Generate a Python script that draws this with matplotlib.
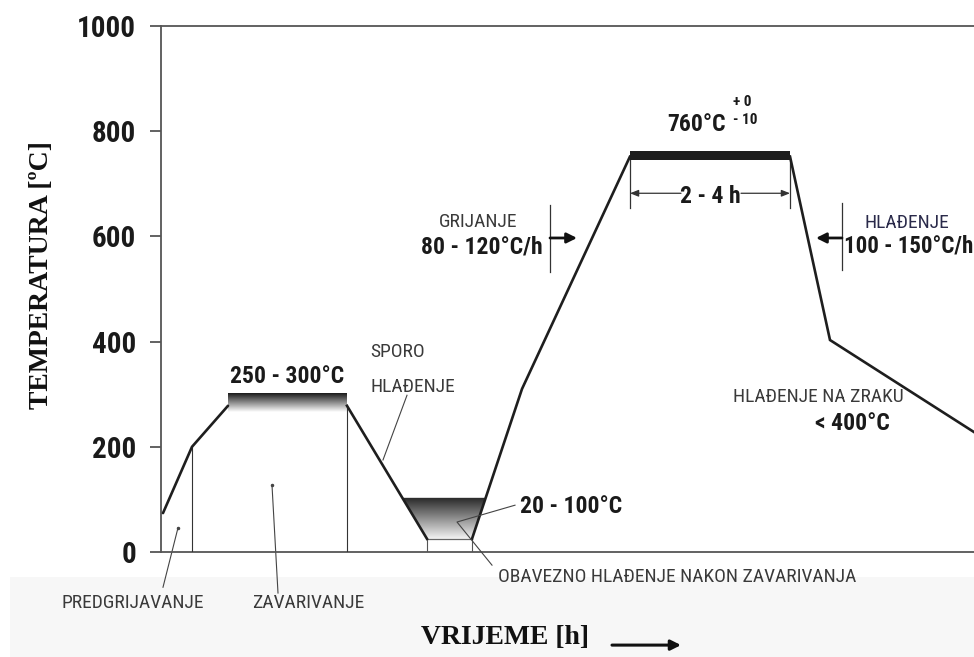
import numpy as np
import matplotlib
matplotlib.use("Agg")
import matplotlib.pyplot as plt
from matplotlib.patches import Polygon, Rectangle
from matplotlib import font_manager as fm

# ---------------- data ----------------
y_ticks = [0, 200, 400, 600, 800, 1000]
y_ticklabels = ["0", "200", "400", "600", "800", "1000"]

# preheating ramp (time in arbitrary units, temperature in degC)
preheat_time = [2, 31, 67]
preheat_temp = [74, 200, 278]

# welding hold band 250 - 300 degC
weld_band_time = [67, 186]
weld_band_temp = [266, 302]

# slow cooling after welding
cool_time = [186, 266]
cool_temp = [278, 25]

# mandatory cooling window 20 - 100 degC
trough_temp = [25, 103]
trough_time = [266, 311]

# heating to PWHT and cooling
pwht_time = [311, 361, 469, 629, 669, 813]
pwht_temp = [25, 310, 752, 752, 403, 228]

# PWHT soak band
soak_time = [469, 629]
soak_temp = [746, 763]

welding_marker_time = [31, 186]
welding_marker_temp = [200, 278]

names = {f.name for f in fm.fontManager.ttflist}


def pick(cands):
    for c in cands:
        if c in names:
            return c
    return "DejaVu Sans"


NARROW = pick(["Roboto Condensed", "Archivo Narrow", "PT Sans Narrow", "Liberation Sans Narrow"])
LIGHTF = pick(["Roboto Condensed", "PT Sans Narrow", "Archivo Narrow"])
SERIF = "Liberation Serif"

fig = plt.figure(figsize=(9.74, 6.57), dpi=100)
fig.patch.set_facecolor("white")
# light grey bottom strip
fig.add_artist(Rectangle((10 / 974, 0), 1, 80 / 657, transform=fig.transFigure,
                         facecolor="#f7f7f7", edgecolor="none", zorder=-5))

ax = fig.add_axes([161 / 974, (657 - 552) / 657, (974 - 161) / 974, (552 - 26) / 657])
ax.set_facecolor("none")
ax.set_xlim(0, 813)
ax.set_ylim(0, 1000)
ax.spines["right"].set_visible(False)
for s in ["left", "top", "bottom"]:
    ax.spines[s].set_color("#555555")
    ax.spines[s].set_linewidth(1.3)
ax.set_xticks([])
ax.set_yticks(y_ticks)
ax.set_yticklabels(y_ticklabels, fontfamily=NARROW, fontsize=21, fontweight="bold", color="#1a1a1a")
ax.tick_params(axis="y", length=8, width=1.3, color="#555555", pad=10)

LINE = "#1e1e1e"
LW = 1.9

# profile lines
ax.plot(preheat_time, preheat_temp, color=LINE, lw=LW, solid_capstyle="round", zorder=5)
ax.plot(cool_time, cool_temp, color=LINE, lw=LW, zorder=5)
ax.plot(pwht_time, pwht_temp, color=LINE, lw=LW, solid_joinstyle="miter", zorder=5)

# vertical markers at welding start / end
for t, T in zip(welding_marker_time, welding_marker_temp):
    ax.plot([t, t], [0, T], color="#333333", lw=0.8, zorder=4)


def gradient_fill(ax, patch, y0, y1, c_top, c_bot, x0, x1):
    ax.add_patch(patch)
    grad = np.linspace(0, 1, 256).reshape(-1, 1)
    top = np.array(matplotlib.colors.to_rgb(c_top))
    bot = np.array(matplotlib.colors.to_rgb(c_bot))
    img = top[None, None, :] * (1 - grad[:, :, None]) + bot[None, None, :] * grad[:, :, None]
    im = ax.imshow(img, extent=[x0, x1, y0, y1], origin="upper", aspect="auto", zorder=3)
    im.set_clip_path(patch)


# welding band gradient
wb = Rectangle((weld_band_time[0], weld_band_temp[0]), weld_band_time[1] - weld_band_time[0],
               weld_band_temp[1] - weld_band_temp[0], facecolor="none", edgecolor="none")
gradient_fill(ax, wb, weld_band_temp[0], weld_band_temp[1], "#1a1a1a", "#ffffff",
              weld_band_time[0], weld_band_time[1])

# trough (20 - 100 degC) trapezoid
t_top_left = np.interp(trough_temp[1], cool_temp[::-1], cool_time[::-1])
t_top_right = np.interp(trough_temp[1], pwht_temp[:3], pwht_time[:3])
trap = Polygon([[t_top_left, trough_temp[1]], [t_top_right, trough_temp[1]],
                [trough_time[1], trough_temp[0]], [trough_time[0], trough_temp[0]]],
               closed=True, facecolor="none", edgecolor="none")
gradient_fill(ax, trap, trough_temp[0], trough_temp[1], "#262626", "#f4f4f4",
              t_top_left, t_top_right)
ax.plot([trough_time[0], trough_time[1]], [trough_temp[0], trough_temp[0]], color="#666666", lw=0.9, zorder=4)
for t in trough_time:
    ax.plot([t, t], [0, trough_temp[0]], color="#555555", lw=0.8, zorder=4)

# soak band at 760
ax.add_patch(Rectangle((soak_time[0], soak_temp[0]), soak_time[1] - soak_time[0],
                       soak_temp[1] - soak_temp[0], facecolor="#1c1c1c", edgecolor="none", zorder=6))

# ----------- annotations -----------
BOLD = dict(fontfamily=NARROW, fontweight="bold", color="#1a1a1a")
LIGHT = dict(fontfamily=LIGHTF, fontweight="normal", color="#3a3a3a")
LS = 14

ax.text(126, 333, "250 - 300°C", fontsize=17, ha="center", va="center", **BOLD)
ax.text(209, 380, "SPORO", fontsize=LS, ha="left", va="center", **LIGHT)
ax.text(209, 314, "HLAĐENJE", fontsize=LS, ha="left", va="center", **LIGHT)
ax.plot([222, 246], [175, 298], color="#444444", lw=0.8)

ax.text(-28, -97, "PREDGRIJAVANJE", fontsize=LS, ha="center", va="center", clip_on=False, **LIGHT)
ax.plot([2, 17], [-67, 46], color="#444444", lw=0.8, clip_on=False)
ax.plot([17], [46], marker="o", ms=1.5, color="#444444")

ax.text(147, -97, "ZAVARIVANJE", fontsize=LS, ha="center", va="center", clip_on=False, **LIGHT)
ax.plot([117, 111], [-78, 127], color="#444444", lw=0.8, clip_on=False)
ax.plot([111], [127], marker="o", ms=1.5, color="#444444")

ax.text(359, 86, "20 - 100°C", fontsize=17, ha="left", va="center", **BOLD)
ax.plot([354, 296, 331], [89, 57, -25], color="#444444", lw=0.8, clip_on=False, zorder=7)
ax.text(337, -48, "OBAVEZNO HLAĐENJE NAKON ZAVARIVANJA", fontsize=LS, ha="left", va="center",
        clip_on=False, **LIGHT)

# heating rate
ax.text(317, 627, "GRIJANJE", fontsize=LS, ha="center", va="center", **LIGHT)
ax.text(382, 580, "80 - 120°C/h", fontsize=17, ha="right", va="center", **BOLD)
ax.plot([389, 389], [532, 660], color="#333333", lw=0.9)
ax.annotate("", xy=(416, 597), xytext=(389, 597),
            arrowprops=dict(arrowstyle="-|>,head_length=0.6,head_width=0.3", color="#111111", lw=2.0,
                            shrinkA=0, shrinkB=0))

# soak
ax.text(536, 812, "760°C", fontsize=17, ha="center", va="center", **BOLD)
ax.text(572, 856, "+ 0", fontsize=11, ha="left", va="center", **BOLD)
ax.text(572, 822, "- 10", fontsize=11, ha="left", va="center", **BOLD)
for t in soak_time:
    ax.plot([t, t], [654, 746], color="#333333", lw=0.9)
ax.annotate("", xy=(soak_time[0], 682), xytext=(520, 682),
            arrowprops=dict(arrowstyle="-|>,head_length=0.5,head_width=0.2", color="#333333", lw=0.9,
                            shrinkA=0, shrinkB=0))
ax.annotate("", xy=(soak_time[1], 682), xytext=(580, 682),
            arrowprops=dict(arrowstyle="-|>,head_length=0.5,head_width=0.2", color="#333333", lw=0.9,
                            shrinkA=0, shrinkB=0))
ax.text(549, 675, "2 - 4 h", fontsize=17, ha="center", va="center", **BOLD)

# cooling rate
ax.plot([681, 681], [536, 663], color="#333333", lw=0.9)
ax.annotate("", xy=(655, 597), xytext=(681, 597),
            arrowprops=dict(arrowstyle="-|>,head_length=0.6,head_width=0.3", color="#111111", lw=2.0,
                            shrinkA=0, shrinkB=0))
ax.text(746, 625, "HLAĐENJE", fontsize=LS, ha="center", va="center", color="#2a2a4a",
        fontfamily=LIGHTF)
ax.text(683, 582, "100 - 150°C/h", fontsize=16.5, ha="left", va="center", clip_on=False, **BOLD)

ax.text(657, 295, "HLAĐENJE NA ZRAKU", fontsize=LS, ha="center", va="center", **LIGHT)
ax.text(691, 245, "< 400°C", fontsize=17, ha="center", va="center", **BOLD)

# axis labels
fig.text(42 / 974, 1 - 275 / 657, "TEMPERATURA [ºC]", rotation=90, ha="center", va="center",
         fontfamily=SERIF, fontweight="bold", fontsize=20, color="#111111")
ax.text(344, -162, "VRIJEME [h]", fontsize=20, ha="center", va="center", clip_on=False,
        fontfamily=SERIF, fontweight="bold", color="#111111")
ax.annotate("", xy=(520, -177), xytext=(451, -177), annotation_clip=False,
            arrowprops=dict(arrowstyle="-|>,head_length=0.6,head_width=0.3", color="#111111", lw=2.2,
                            shrinkA=0, shrinkB=0))

fig.savefig("out.png", dpi=100)
